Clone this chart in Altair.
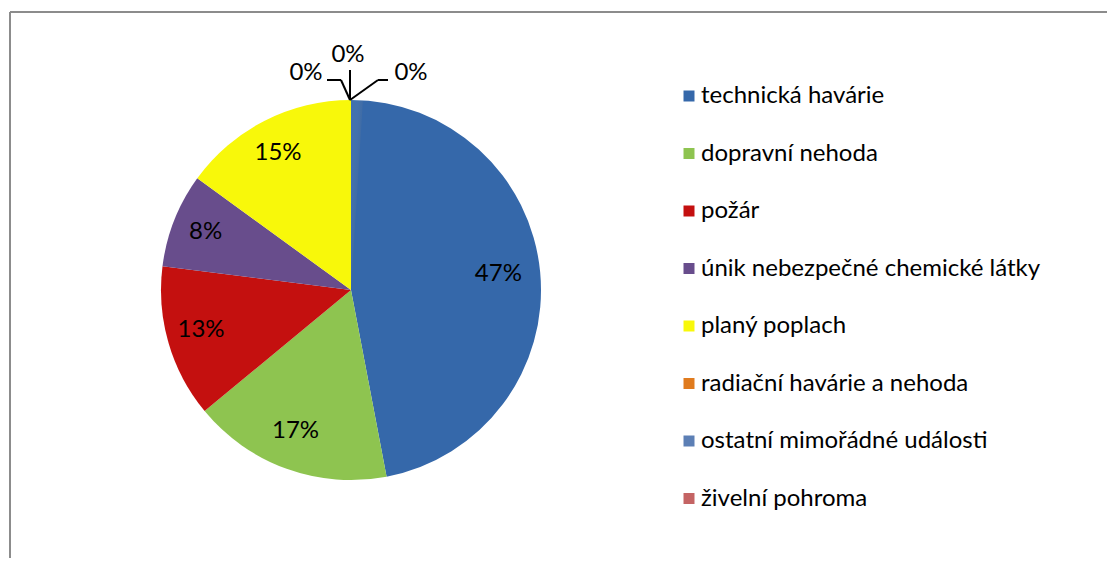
import altair as alt
import pandas as pd

categories = [
    "technická havárie",
    "dopravní nehoda",
    "požár",
    "únik nebezpečné chemické látky",
    "planý poplach",
    "radiační havárie a nehoda",
    "ostatní mimořádné události",
    "živelní pohroma",
]
values = [47, 17, 13, 8, 15, 0, 0, 0]
colors = ["#3568aa", "#8ec450", "#c4100f", "#684d8c", "#f8f80a", "#e07b1e", "#5c7fb5", "#c46464"]

# labels of the three zero slices (offsets from pie centre, as placed in the original)
zero_text = ["0%", "0%", "0%"]
zero_dx = [-45, -3, 60]
zero_dy = [-217, -235, -217]

W, H = 1099, 550
CX, CY, R = 343, 282, 190
FS = 24

df = pd.DataFrame({
    "category": categories,
    "value": values,
    "idx": list(range(len(categories))),
    "label": [f"{v}%" for v in values],
})

base = alt.Chart(df).transform_filter("datum.value > 0").encode(
    theta=alt.Theta("value:Q", stack=True),
    order=alt.Order("idx:Q"),
)

pie = base.mark_arc(radius=R, x=CX, y=CY).encode(
    color=alt.Color(
        "category:N",
        scale=alt.Scale(domain=categories, range=colors),
        sort=categories,
        legend=alt.Legend(
            title=None,
            orient="none",
            legendX=669,
            legendY=76,
            symbolType="square",
            symbolSize=121,
            symbolStrokeWidth=0,
            labelFontSize=FS,
            labelFont="Lato",
            labelColor="#000000",
            labelOffset=0,
            rowPadding=57.5 - FS,
            labelLimit=500,
        ),
    )
)

shade = alt.Chart(pd.DataFrame({"v": [1]})).mark_arc(
    radius=R, x=CX, y=CY,
    fill=alt.LinearGradient(
        gradient="linear", x1=0.1, y1=0.1, x2=0.9, y2=0.95,
        stops=[alt.GradientStop(color="rgba(255,255,255,0.06)", offset=0),
               alt.GradientStop(color="rgba(0,0,0,0.2)", offset=1)],
    ),
).encode(theta=alt.Theta("v:Q"))

text = base.mark_text(
    radius=152, x=CX - 4, y=CY - 2, fontSize=FS, font="Lato", color="#000000"
).encode(text="label:N")

zdf = pd.DataFrame({"t": zero_text, "dx": zero_dx, "dy": zero_dy})
zdf["x"] = CX + zdf["dx"]
zdf["y"] = CY + zdf["dy"]
zero_lbl = alt.Chart(zdf).mark_text(fontSize=FS, font="Lato", color="#000000").encode(
    x=alt.X("x:Q", scale=None), y=alt.Y("y:Q", scale=None), text="t:N"
)

# leader lines from the pie top to the zero labels
top_x, top_y = CX - 1, CY - R
lines = pd.DataFrame({
    "x": [top_x, top_x - 9, top_x, top_x, top_x + 28],
    "y": [top_y, top_y - 20, top_y, top_y, top_y - 20],
    "x2": [top_x - 9, top_x - 23, top_x, top_x + 28, top_x + 38],
    "y2": [top_y - 20, top_y - 20, top_y - 30, top_y - 20, top_y - 20],
})
leaders = alt.Chart(lines).mark_rule(color="#000000", strokeWidth=2).encode(
    x=alt.X("x:Q", scale=None), y=alt.Y("y:Q", scale=None),
    x2="x2:Q", y2="y2:Q",
)

border_top = alt.Chart(pd.DataFrame({"v": [0]})).mark_rule(color="#8c8c8c", strokeWidth=2).encode(
    x=alt.value(2), x2=alt.value(W + 10), y=alt.value(4)
)
border_left = alt.Chart(pd.DataFrame({"v": [0]})).mark_rule(color="#8c8c8c", strokeWidth=2).encode(
    x=alt.value(2), y=alt.value(4), y2=alt.value(H + 20)
)

chart = alt.layer(border_top, border_left, pie, shade, text, leaders, zero_lbl).properties(
    width=W, height=H, autosize=alt.AutoSizeParams(type="none"), padding=0
).configure_view(stroke=None)

chart.save("out.html", embed_options={"renderer": "svg", "actions": False})
